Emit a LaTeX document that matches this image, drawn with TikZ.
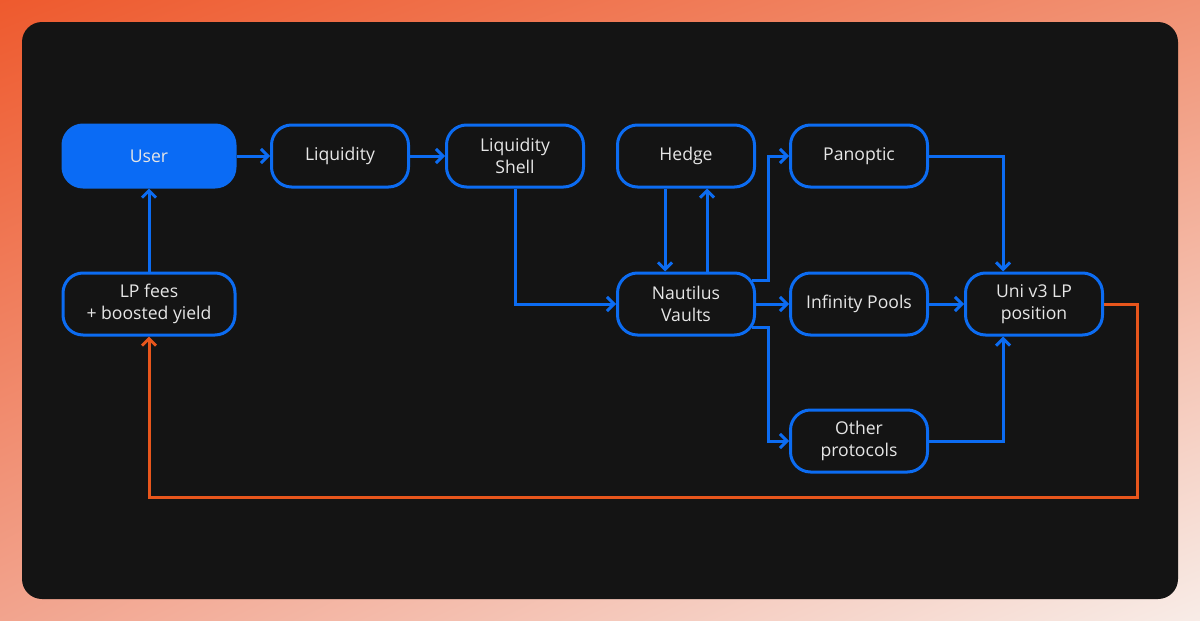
\documentclass[tikz,border=0pt]{standalone}
\usepackage{fontspec}
\setmainfont{Open Sans}
\usetikzlibrary{arrows.meta,shadings}
\definecolor{bgA}{HTML}{EE5A2E}
\definecolor{bgB}{HTML}{F19274}
\definecolor{bgC}{HTML}{F2A48E}
\definecolor{bgD}{HTML}{F8ECE7}
\definecolor{panel}{HTML}{141414}
\definecolor{fblue}{HTML}{0A6BF5}
\definecolor{lblue}{HTML}{0C6CF2}
\definecolor{lorange}{HTML}{E8561C}
\definecolor{txt}{HTML}{E6E6E6}
\tikzset{
  box/.style={draw=lblue, line width=3pt, rounded corners=20pt, minimum width=137pt,
    minimum height=62pt, inner sep=0pt, align=center, text=txt,
    font=\fontsize{17.6}{22}\selectfont},
  userbox/.style={box, fill=fblue, minimum width=172pt},
  arr/.style={draw=lblue, line width=3pt, -{Straight Barb[length=7pt,width=14pt,line width=3pt]}},
  oarr/.style={draw=lorange, line width=3pt, -{Straight Barb[length=7pt,width=14pt,line width=3pt]}},
}
\begin{document}
\begin{tikzpicture}[x=1pt,y=-1pt]
\useasboundingbox (0,0) rectangle (1200,621);
\shade[upper left=bgA, upper right=bgB, lower left=bgC, lower right=bgD] (0,0) rectangle (1200,621);
\fill[panel, rounded corners=20pt] (22,22) rectangle (1178,599);

\node[userbox] (user) at (149,156) {User};
\node[box] (liq) at (340,156) {Liquidity};
\node[box] (shell) at (515,156) {Liquidity\\Shell};
\node[box] (hedge) at (686,156) {Hedge};
\node[box] (pan) at (859,156) {Panoptic};
\node[box, minimum width=172pt] (fees) at (149,304) {LP fees\\+ boosted yield};
\node[box] (naut) at (686,304) {Nautilus\\Vaults};
\node[box] (inf) at (859,304) {Infinity Pools};
\node[box] (uni) at (1034,304) {Uni v3 LP\\position};
\node[box] (oth) at (859,441) {Other\\protocols};

\coordinate (ret) at (1137,497);

\draw[arr] (user) -- (liq);
\draw[arr] (liq) -- (shell);
\draw[arr] (shell.south) |- (naut.west);
\draw[arr] ([xshift=-21pt]hedge.south) -- ([xshift=-21pt]naut.north);
\draw[arr] ([xshift=21pt]naut.north) -- ([xshift=21pt]hedge.south);
\draw[arr] ([xshift=-4pt,yshift=24pt]naut.east) -| ([xshift=-21pt]pan.west) -- (pan.west);
\draw[arr] (naut) -- (inf);
\draw[arr] ([xshift=-4pt,yshift=-23pt]naut.east) -| ([xshift=-21pt]oth.west) -- (oth.west);
\draw[arr] (pan.east) -| ([xshift=-31pt]uni.north);
\draw[arr] (inf) -- (uni);
\draw[arr] (oth.east) -| ([xshift=-31pt]uni.south);
\draw[oarr] (uni.east) -| (ret) -| (fees.south);
\draw[arr] (fees) -- (user);
\end{tikzpicture}
\end{document}
